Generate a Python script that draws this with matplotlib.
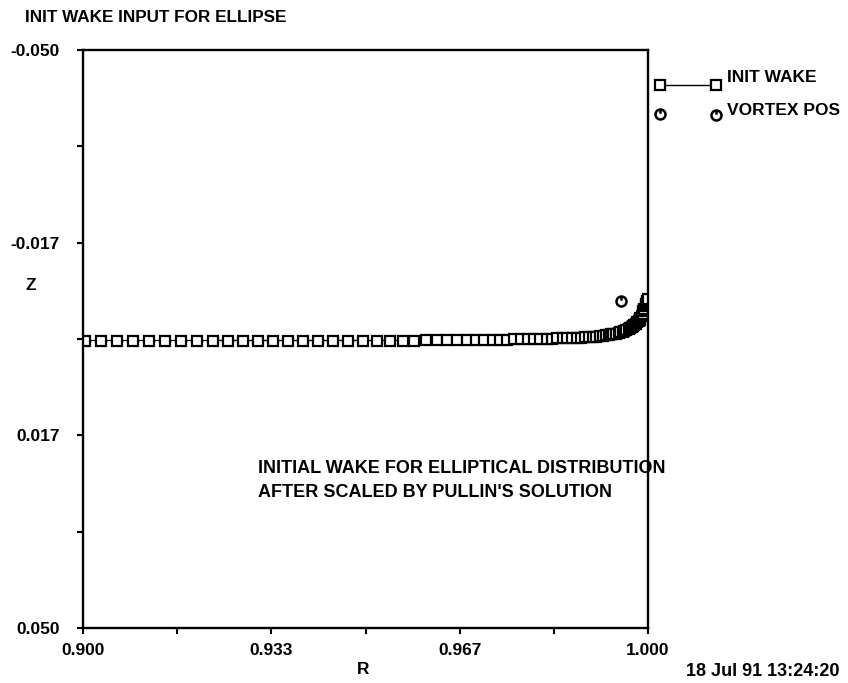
import matplotlib
matplotlib.use("Agg")
import matplotlib.pyplot as plt
import matplotlib.path as mpath
from matplotlib.ticker import FixedLocator, FixedFormatter

# ---- data -------------------------------------------------------------
r_wake = [0.90035, 0.90319, 0.90602, 0.90885, 0.91168, 0.91451, 0.91735,
          0.92018, 0.92301, 0.92566, 0.92832, 0.93097, 0.93363, 0.93628,
          0.93894, 0.94159, 0.94425, 0.94690, 0.94956, 0.95204, 0.95434,
          0.95655, 0.95867, 0.96071, 0.96265, 0.96451, 0.96628, 0.96796,
          0.96956, 0.97106, 0.97248, 0.97381, 0.97513, 0.97637, 0.97761,
          0.97876, 0.97991, 0.98097, 0.98204, 0.98301, 0.98398, 0.98487,
          0.98575, 0.98655, 0.98735, 0.98814, 0.98885, 0.98956, 0.99018,
          0.99080, 0.99142, 0.99195, 0.99248, 0.99301, 0.99345, 0.99389,
          0.99434, 0.99478, 0.99513, 0.99549, 0.99584, 0.99619, 0.99655,
          0.99681, 0.99708, 0.99735, 0.99761, 0.99788, 0.99814, 0.99832,
          0.99850, 0.99867, 0.99885, 0.99903, 0.99920, 0.99938, 0.99956,
          0.99970, 0.99982, 0.99991, 1.00000]
z_wake = [0.00026, 0.00026, 0.00026, 0.00026, 0.00026, 0.00026, 0.00026,
          0.00026, 0.00026, 0.00026, 0.00026, 0.00026, 0.00026, 0.00026,
          0.00026, 0.00026, 0.00026, 0.00026, 0.00026, 0.00026, 0.00026,
          0.00026, 0.00026, 0.00024, 0.00022, 0.00021, 0.00019, 0.00018,
          0.00017, 0.00016, 0.00014, 0.00011, 0.00009, 0.00007, 0.00005,
          0.00003, 0.00000, -0.00002, -0.00003, -0.00006, -0.00009, -0.00011,
          -0.00014, -0.00016, -0.00017, -0.00022, -0.00026, -0.00031, -0.00035,
          -0.00042, -0.00047, -0.00054, -0.00061, -0.00069, -0.00078, -0.00087,
          -0.00095, -0.00106, -0.00114, -0.00126, -0.00142, -0.00156, -0.00170,
          -0.00185, -0.00202, -0.00221, -0.00242, -0.00268, -0.00294, -0.00311,
          -0.00337, -0.00367, -0.00398, -0.00433, -0.00476, -0.00519, -0.00571,
          -0.00606, -0.00640, -0.00666, -0.00692]

r_vortex = [0.9953]
z_vortex = [-0.0065]

x_major = [0.900, 0.93333, 0.96667, 1.000]
x_major_labels = ["0.900", "0.933", "0.967", "1.000"]
x_minor = [0.91667, 0.95, 0.98333]
y_major = [-0.050, -0.01667, 0.01667, 0.050]
y_major_labels = ["-0.050", "-0.017", "0.017", "0.050"]
y_minor = [-0.03333, 0.0, 0.03333]

title_text = "INIT WAKE INPUT FOR ELLIPSE"
note_text = "INITIAL WAKE FOR ELLIPTICAL DISTRIBUTION\nAFTER SCALED BY PULLIN'S SOLUTION"
stamp_text = "18 Jul 91 13:24:20"
wake_label = "INIT WAKE"
vortex_label = "VORTEX POS"

# ---- style --------------------------------------------------------------
plt.rcParams["font.family"] = ["Liberation Sans", "DejaVu Sans"]
plt.rcParams["font.weight"] = "bold"
FS = 12.5

# circle marker with a short stroke down from the top
circle = mpath.Path.unit_circle()
stroke = mpath.Path([(0, 1.0), (0, 0.15)], [mpath.Path.MOVETO, mpath.Path.LINETO])
vortex_marker = mpath.Path.make_compound_path(circle, stroke)

wake_style = dict(color="black", lw=1.0, marker="s", ms=6.5, mfc="white",
                  mec="black", mew=1.6)
vortex_style = dict(ls="none", color="black", marker=vortex_marker, ms=7.2,
                    mfc="none", mec="black", mew=1.8)

# ---- figure -------------------------------------------------------------
fig = plt.figure(figsize=(8.48, 6.83), dpi=100)
ax = fig.add_axes([83 / 848, 1 - 628 / 683, 565 / 848, 578 / 683])

ax.plot(r_wake, z_wake, label=wake_label, **wake_style)
ax.plot(r_vortex, z_vortex, label=vortex_label, **vortex_style)

ax.set_xlim(0.900, 1.000)
ax.set_ylim(0.050, -0.050)

ax.xaxis.set_major_locator(FixedLocator(x_major))
ax.xaxis.set_major_formatter(FixedFormatter(x_major_labels))
ax.xaxis.set_minor_locator(FixedLocator(x_minor))
ax.yaxis.set_major_locator(FixedLocator(y_major))
ax.yaxis.set_major_formatter(FixedFormatter(y_major_labels))
ax.yaxis.set_minor_locator(FixedLocator(y_minor))

ax.tick_params(axis="both", which="both", direction="out", length=4.5,
               width=1.5, color="black")
ax.tick_params(axis="x", which="major", pad=6, labelsize=FS)
ax.tick_params(axis="y", which="major", pad=12, labelsize=FS)
for lab in ax.get_xticklabels() + ax.get_yticklabels():
    lab.set_fontweight("bold")

for sp in ax.spines.values():
    sp.set_linewidth(1.7)
    sp.set_color("black")

# annotation inside the plot
ax.text(0.3097, 1 - (480.5 - 50) / 578, note_text, transform=ax.transAxes,
        fontsize=13, fontweight="bold", ha="left", va="center",
        linespacing=1.6)

# key to the right of the plot: two sample marks per entry, then the label
key_x = [1.0212, 1.1204]
key_text_x = 1.1398
ax.plot(key_x, [0.9394, 0.9394], transform=ax.transAxes, clip_on=False,
        **wake_style)
ax.plot(key_x, [0.8893, 0.8876], transform=ax.transAxes, clip_on=False,
        **vortex_style)
ax.text(key_text_x, 0.9516, wake_label, transform=ax.transAxes, fontsize=FS,
        fontweight="bold", ha="left", va="center")
ax.text(key_text_x, 0.8945, vortex_label, transform=ax.transAxes, fontsize=FS,
        fontweight="bold", ha="left", va="center")

fig.text(25 / 848, 1 - 18 / 683, title_text, fontsize=12.3, fontweight="bold",
         ha="left", va="center")
fig.text(363 / 848, 1 - 670 / 683, "R", fontsize=FS, fontweight="bold",
         ha="center", va="center")
fig.text(31 / 848, 1 - 285 / 683, "Z", fontsize=FS, fontweight="bold",
         ha="center", va="center")
fig.text(840 / 848, 1 - 672 / 683, stamp_text, fontsize=13, fontweight="bold",
         ha="right", va="center")

fig.savefig("out.png", dpi=100)
